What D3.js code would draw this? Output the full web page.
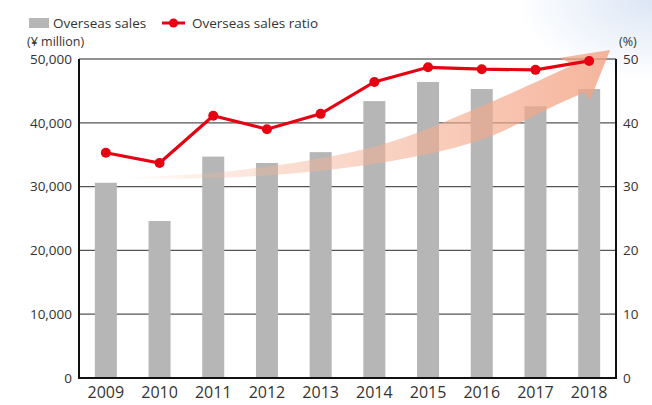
<!DOCTYPE html>
<html>
<head>
<meta charset="utf-8">
<script src="https://cdn.jsdelivr.net/npm/d3@7"></script>
<style>
  body { margin: 0; background: #fff; }
  text { font-family: "Open Sans", "Noto Sans", sans-serif; fill: #333; }
</style>
</head>
<body>
<svg width="652" height="405"></svg>
<script>
const years = ['2009', '2010', '2011', '2012', '2013', '2014', '2015', '2016', '2017', '2018'];
const sales = [30600, 24600, 34700, 33700, 35400, 43400, 46400, 45300, 42600, 45300];
const ratio = [35.3, 33.7, 41.1, 39.0, 41.4, 46.4, 48.7, 48.4, 48.3, 49.7];
const leftTicks = [0, 10000, 20000, 30000, 40000, 50000];
const rightTicks = [0, 10, 20, 30, 40, 50];
// decorative arrow outline: [year index, value in ¥ million]
const arrowBottom = [[0.13, 31300], [2.5, 31500], [5.1, 33700], [6.97, 37300], [8.46, 43100], [8.92, 44800]];
const arrowHead = [[9.02, 43600], [9.39, 51400], [8.46, 50200], [8.7, 49100]];
const arrowTop = [[8.7, 49100], [6.97, 42500], [5.1, 36500], [2.5, 32600], [0.13, 31300]];

const svg = d3.select('svg');
const margin = { left: 79, right: 36, top: 59, bottom: 27 };
const width = 652, height = 405;

let x = d3.scaleBand().domain(years).range([margin.left, width - margin.right]).paddingInner(0.59).paddingOuter(0.295);
let y = d3.scaleLinear().domain([0, 50000]).range([height - margin.bottom, margin.top]);
let y2 = d3.scaleLinear().domain([0, 50]).range([height - margin.bottom, margin.top]);
let cx = i => x(years[0]) + x.bandwidth() / 2 + i * x.step();

let defs = svg.append('defs');
let bg = defs.append('radialGradient').attr('id', 'bg')
    .attr('cx', 1).attr('cy', 0).attr('r', 0.5);
bg.append('stop').attr('offset', '0%').attr('stop-color', '#dbe6f5');
bg.append('stop').attr('offset', '100%').attr('stop-color', '#ffffff');
svg.append('rect').attr('x', 380).attr('y', 0).attr('width', 272).attr('height', 160).attr('fill', 'url(#bg)');

let ag = defs.append('linearGradient').attr('id', 'arrow')
    .attr('x1', 0).attr('y1', 0).attr('x2', 1).attr('y2', 0);
ag.append('stop').attr('offset', '0%').attr('stop-color', '#f6b9a0').attr('stop-opacity', 0);
ag.append('stop').attr('offset', '35%').attr('stop-color', '#f5b49a').attr('stop-opacity', 0.45);
ag.append('stop').attr('offset', '100%').attr('stop-color', '#f3a283').attr('stop-opacity', 0.8);

// grid lines
svg.append('g').selectAll('line').data(leftTicks.slice(1, 5)).join('line')
    .attr('x1', margin.left).attr('x2', width - margin.right)
    .attr('y1', d => y(d)).attr('y2', d => y(d))
    .attr('stroke', '#555').attr('stroke-width', 1.2);
svg.append('line').attr('x1', margin.left).attr('x2', width - margin.right)
    .attr('y1', y(50000)).attr('y2', y(50000)).attr('stroke', '#222').attr('stroke-width', 1);

// bars
svg.append('g').selectAll('rect').data(sales).join('rect')
    .attr('x', (d, i) => x(years[i]))
    .attr('y', d => y(d))
    .attr('width', x.bandwidth())
    .attr('height', d => y(0) - y(d))
    .attr('fill', '#b5b6b5');

// rising arrow (decorative)
let edge = d3.line().x(d => cx(d[0])).y(d => y(d[1])).curve(d3.curveCatmullRom);
let head = arrowHead.map(d => [cx(d[0]), y(d[1])]);
let arrowD = edge(arrowBottom) + 'L' + head.map(p => p.join(',')).join('L') + edge(arrowTop).replace(/^M/, 'L') + 'Z';
svg.append('path').attr('d', arrowD).attr('fill', 'url(#arrow)');

// axes frame
svg.append('line').attr('x1', margin.left).attr('x2', margin.left)
    .attr('y1', y(50000)).attr('y2', y(0)).attr('stroke', '#111').attr('stroke-width', 2);
svg.append('line').attr('x1', width - margin.right).attr('x2', width - margin.right)
    .attr('y1', y(50000)).attr('y2', y(0)).attr('stroke', '#111').attr('stroke-width', 2);
svg.append('line').attr('x1', margin.left - 1).attr('x2', width - margin.right + 1)
    .attr('y1', y(0)).attr('y2', y(0)).attr('stroke', '#111').attr('stroke-width', 2.2);

// line
let line = d3.line().x((d, i) => x(years[i]) + x.bandwidth() / 2).y(d => y2(d));
svg.append('path').datum(ratio).attr('d', line)
    .attr('fill', 'none').attr('stroke', '#e60012').attr('stroke-width', 3.2);
svg.append('g').selectAll('circle').data(ratio).join('circle')
    .attr('cx', (d, i) => x(years[i]) + x.bandwidth() / 2)
    .attr('cy', d => y2(d))
    .attr('r', 5).attr('fill', '#e60012');

// tick labels
const fmt = d3.format(',');
svg.append('g').selectAll('text').data(leftTicks).join('text')
    .attr('x', margin.left - 7).attr('y', d => y(d)).attr('dy', '0.35em')
    .attr('text-anchor', 'end').attr('font-size', 13.5).text(d => fmt(d));
svg.append('g').selectAll('text').data(rightTicks).join('text')
    .attr('x', width - margin.right + 7).attr('y', d => y2(d)).attr('dy', '0.35em')
    .attr('text-anchor', 'start').attr('font-size', 13.5).text(d => d);
svg.append('g').selectAll('text').data(years).join('text')
    .attr('x', d => x(d) + x.bandwidth() / 2).attr('y', y(0) + 20)
    .attr('text-anchor', 'middle').attr('font-size', 16).text(d => d);

svg.append('text').attr('x', 27).attr('y', 46).attr('font-size', 12.5).text('(¥ million)');
svg.append('text').attr('x', 619).attr('y', 46).attr('font-size', 12.5).text('(%)');

// legend
svg.append('rect').attr('x', 29).attr('y', 18).attr('width', 20).attr('height', 10).attr('fill', '#b5b6b5');
svg.append('text').attr('x', 53).attr('y', 28).attr('font-size', 13.5).text('Overseas sales');
svg.append('line').attr('x1', 162).attr('x2', 185).attr('y1', 23).attr('y2', 23)
    .attr('stroke', '#e60012').attr('stroke-width', 3);
svg.append('circle').attr('cx', 173.5).attr('cy', 23).attr('r', 4.5).attr('fill', '#e60012');
svg.append('text').attr('x', 192).attr('y', 28).attr('font-size', 13.5).text('Overseas sales ratio');
</script>
</body>
</html>
